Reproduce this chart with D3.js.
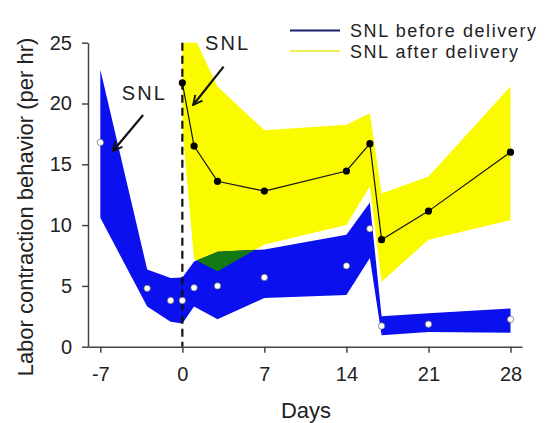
<!DOCTYPE html>
<html><head><meta charset="utf-8">
<script src="https://cdn.jsdelivr.net/npm/d3@7"></script>
<style>
html,body{margin:0;padding:0;background:#fff;}
svg{display:block;font-family:"Liberation Sans",Arial,sans-serif;}
</style></head>
<body><svg id="c" width="547" height="423"></svg>
<script>
// ---- data ----
const days        = [-7, -3, -1, 0, 1, 3, 7, 14, 16, 17, 21, 28];
const beforeMean  = [16.8, 4.8, 3.8, 3.8, 4.85, 5.0, 5.7, 6.65, 9.7, 1.7, 1.85, 2.25];
const beforeUpper = [22.8, 6.35, 5.65, 5.7, 7.0, 7.8, 8.0, 9.2, 11.85, 2.5, 2.75, 3.15];
const beforeLower = [10.6, 3.3, 2.05, 1.9, 3.3, 2.25, 4.0, 4.25, 7.3, 0.95, 1.2, 1.15];

const afterDays  = [0, 1, 3, 7, 14, 16, 17, 21, 28];
const afterMean  = [21.7, 16.5, 13.6, 12.8, 14.45, 16.7, 8.8, 11.15, 16.0];
const afterUpper = [27, 25.5, 21.4, 17.8, 18.25, 19.2, 12.6, 14.0, 21.4];
const afterLower = [18, 7.2, 6.2, 8.4, 10.0, 13.2, 5.35, 8.8, 10.4];

const xTicks = [-7, 0, 7, 14, 21, 28];
const yTicks = [0, 5, 10, 15, 20, 25];
const legendLabels = ["SNL before delivery", "SNL after delivery"];
const annotations = [
  {text: "SNL", tx: -3.33, ty: 20.3, x1: -3.35, y1: 19.05, x2: -5.92, y2: 16.1},
  {text: "SNL", tx: 3.77, ty: 24.4, x1: 3.52, y1: 23.03, x2: 0.92, y2: 19.88}
];
const deliveryDay = 0;

// ---- setup ----
const svg = d3.select("#c");
const x = d3.scaleLinear().domain([-8.05, 28.98]).range([88, 522]);
const y = d3.scaleLinear().domain([0, 25]).range([346.7, 42.7]);
const FONT = '"Liberation Sans", Arial, sans-serif';
const BLUE = "#0a10ee", YELLOW = "#fbfb00", GREEN = "#137a13";

const defs = svg.append("defs");
defs.append("clipPath").attr("id","plotclip").append("rect")
  .attr("x", x(-8.05)).attr("y", y(25)).attr("width", x(28.98)-x(-8.05)).attr("height", y(0)-y(25));

const before = days.map((d,i)=>({d, m:beforeMean[i], hi:beforeUpper[i], lo:beforeLower[i]}));
const after = afterDays.map((d,i)=>({d, m:afterMean[i], hi:afterUpper[i], lo:afterLower[i]}));

const area = d3.area().x(p=>x(p.d)).y0(p=>y(p.lo)).y1(p=>y(p.hi));
defs.append("clipPath").attr("id","yclip").append("path").attr("d", area(after));

const g = svg.append("g").attr("clip-path","url(#plotclip)");
g.append("path").attr("d", area(after)).attr("fill", YELLOW);
g.append("path").attr("d", area(before)).attr("fill", BLUE);
g.append("path").attr("d", area(before)).attr("fill", GREEN).attr("clip-path","url(#yclip)");

// dashed delivery line
svg.append("line").attr("x1", x(deliveryDay)).attr("x2", x(deliveryDay))
  .attr("y1", y(25)).attr("y2", y(0))
  .attr("stroke","#111").attr("stroke-width",2.2).attr("stroke-dasharray","8,5");

// after mean line and dots
svg.append("path").attr("d", d3.line().x(p=>x(p.d)).y(p=>y(p.m))(after))
  .attr("fill","none").attr("stroke","#111").attr("stroke-width",1.2);
svg.selectAll(".adot").data(after).join("circle").attr("class","adot")
  .attr("cx",p=>x(p.d)).attr("cy",p=>y(p.m)).attr("r",3.6).attr("fill","#000");

// before mean dots (white)
svg.selectAll(".bdot").data(before).join("circle").attr("class","bdot")
  .attr("cx",p=>x(p.d)).attr("cy",p=>y(p.m)).attr("r",3.2)
  .attr("fill","#fff").attr("stroke","#666").attr("stroke-width",0.7);

// axes
const fmt = d => String(d);
const xAxis = svg.append("g").attr("transform",`translate(0,${y(0)})`)
  .call(d3.axisBottom(x).tickValues(xTicks).tickFormat(fmt).tickSize(6).tickSizeOuter(0).tickPadding(14));
const yAxis = svg.append("g").attr("transform",`translate(${x(-8.05)},0)`)
  .call(d3.axisLeft(y).tickValues(yTicks).tickFormat(fmt).tickSize(6).tickSizeOuter(0).tickPadding(10));
[xAxis,yAxis].forEach(a=>{
  a.select(".domain").attr("stroke","#444").attr("stroke-width",1.5);
  a.selectAll(".tick line").attr("stroke","#444").attr("stroke-width",1.5);
  a.selectAll(".tick text").attr("fill","#222").style("font-size","20px").style("font-family",FONT);
});

// axis titles
svg.append("text").attr("x", 306).attr("y", 418).attr("text-anchor","middle")
  .attr("fill","#222").style("font-size","22px").text("Days");
svg.append("text").attr("transform",`translate(33,${207}) rotate(-90)`).attr("text-anchor","middle")
  .attr("fill","#222").style("font-size","22px").text("Labor contraction behavior (per hr)");

// annotations
defs.append("marker").attr("id","arr").attr("viewBox","0 0 12 12").attr("refX",11).attr("refY",6)
  .attr("markerWidth",5).attr("markerHeight",5).attr("orient","auto").attr("markerUnits","strokeWidth")
  .append("path").attr("d","M1,1 L11,6 L1,11").attr("fill","none").attr("stroke","#111").attr("stroke-width",2);
annotations.forEach(a=>{
  svg.append("line").attr("x1",x(a.x1)).attr("y1",y(a.y1)).attr("x2",x(a.x2)).attr("y2",y(a.y2))
    .attr("stroke","#111").attr("stroke-width",2.2).attr("marker-end","url(#arr)");
  svg.append("text").attr("x",x(a.tx)).attr("y",y(a.ty)).attr("text-anchor","middle")
    .attr("fill","#222").style("font-size","20px").attr("textLength",43).text(a.text);
});

// legend
const legColors = ["#1c1c72", "#eeee55"];
const legWidths = [186, 168];
legendLabels.forEach((t,i)=>{
  const ly = 30.5 + i*20.5;
  svg.append("line").attr("x1",290).attr("x2",340).attr("y1",ly).attr("y2",ly)
    .attr("stroke",legColors[i]).attr("stroke-width",2.2);
  svg.append("text").attr("x",350).attr("y",ly+6.5).attr("fill","#222").style("font-size","18px")
    .attr("textLength",legWidths[i]).text(t);
});
</script></body></html>
